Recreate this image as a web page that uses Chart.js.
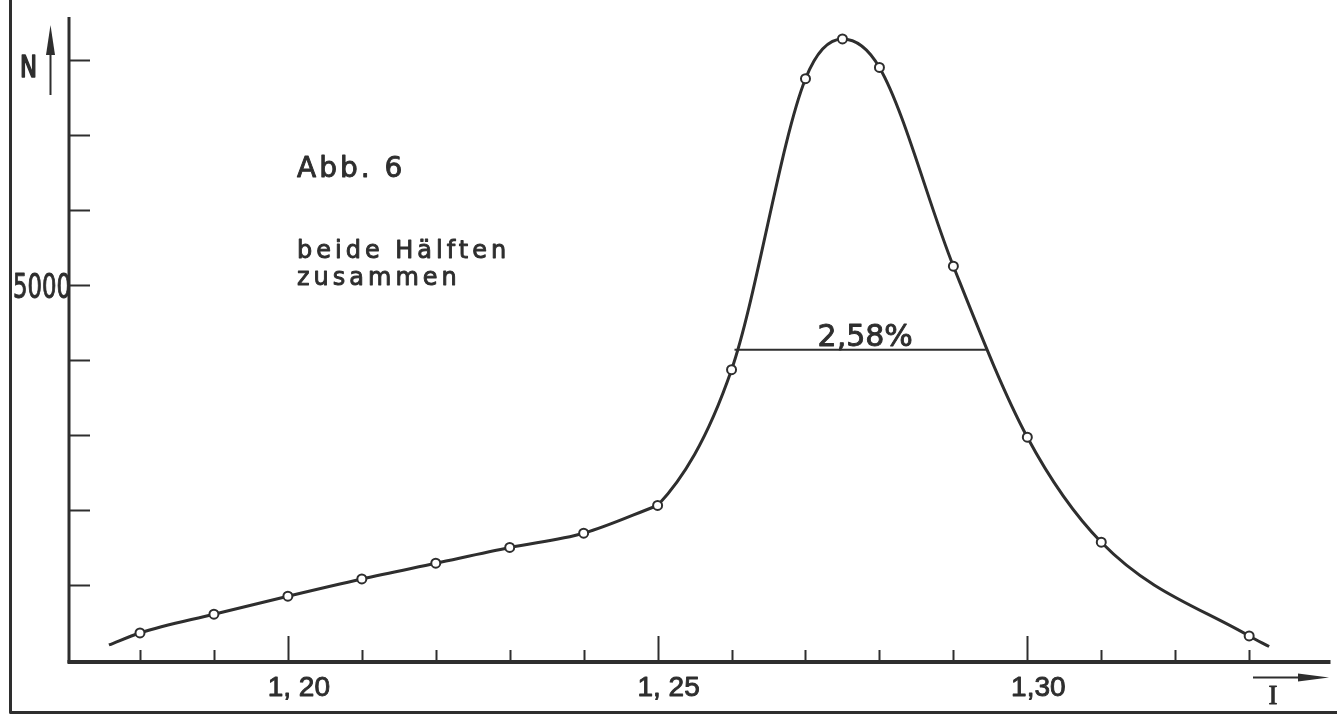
<!DOCTYPE html>
<html>
<head>
<meta charset="utf-8">
<title>Abb. 6</title>
<script src="https://cdn.jsdelivr.net/npm/chart.js@4/dist/chart.umd.min.js"></script>
<style>
  html, body { margin: 0; padding: 0; background: #ffffff; }
  #wrap { width: 1337px; height: 716px; position: relative; }
</style>
</head>
<body>
<div id="wrap"><canvas id="chart"></canvas></div>
<script>
// Measured points: I (abscissa) and counts N
const measI = [1.18, 1.19, 1.20, 1.21, 1.22, 1.23, 1.24, 1.25, 1.26, 1.27, 1.275, 1.28, 1.29, 1.30, 1.31, 1.33];
const measN = [360, 610, 850, 1080, 1290, 1500, 1690, 2060, 3870, 7750, 8280, 7900, 5250, 2970, 1570, 320];

// Where the hand-drawn curve begins and ends beyond the outer points
const tailI = [1.1758, 1.3327];
const tailN = [200, 180];

// The curve bends at the foot of the peak
const kneeI = 1.25;

// Axis ticks
const xTicks = [1.18, 1.19, 1.20, 1.21, 1.22, 1.23, 1.24, 1.25, 1.26, 1.27, 1.28, 1.29, 1.30, 1.31, 1.32, 1.33];
const xMajor = [1.20, 1.25, 1.30];
const xMajorLabels = ['1, 20', '1, 25', '1,30'];
const yTicks = [1000, 2000, 3000, 4000, 5000, 6000, 7000, 8000];
const yLabelValue = 5000;
const yLabelText = '5000';

// Half-width marker
const halfLevel = 4135;
const halfFromI = 1.2604;
const halfToI = 1.2944;
const halfText = '2,58%';

// Plot range and placement
const X_MIN = 1.1704, X_MAX = 1.3410;
const Y_MIN = -27, Y_MAX = 8573;
const PAD = { left: 69, right: 6, top: 17, bottom: 54 };
const WIDTH = 1337;

const INK = '#2e2e2e';

const points = measI.map((x, i) => ({ x, y: measN[i] }));
const curve = [{ x: tailI[0], y: tailN[0] }, ...points, { x: tailI[1], y: tailN[1] }];
// flank below the knee, and the peak part (drawn only right of the knee)
const flank = curve.filter(p => p.x <= kneeI);
const peak = curve.filter(p => p.x >= kneeI - 0.01);
const kneeOffset = (kneeI - X_MIN) / (X_MAX - X_MIN) * (WIDTH - PAD.left - PAD.right);

// lettering: fill plus a hairline outline for a heavier, inked look
function letter(ctx, text, x, y, weight) {
  ctx.fillText(text, x, y);
  ctx.lineWidth = weight;
  ctx.strokeText(text, x, y);
}

// lettering squeezed horizontally to a given width
function letterFit(ctx, text, x, y, width, weight) {
  const w = ctx.measureText(text).width;
  ctx.save();
  ctx.translate(x, y);
  ctx.scale(width / w, 1);
  letter(ctx, text, 0, 0, weight);
  ctx.restore();
}

const drawing = {
  id: 'drawing',
  beforeDatasetsDraw(chart) {
    const ctx = chart.ctx;
    const xs = chart.scales.x, ys = chart.scales.y;
    const area = chart.chartArea;
    ctx.save();
    ctx.strokeStyle = INK;
    ctx.fillStyle = INK;
    ctx.lineCap = 'butt';
    ctx.lineJoin = 'round';

    // page frame (left and bottom edges)
    ctx.lineWidth = 3;
    ctx.beginPath();
    ctx.moveTo(10.5, 0);
    ctx.lineTo(10.5, 712.5);
    ctx.lineTo(1337, 712.5);
    ctx.stroke();

    const x0 = area.left;
    const y0 = area.bottom;

    // axes
    ctx.lineWidth = 3;
    ctx.beginPath();
    ctx.moveTo(x0, area.top);
    ctx.lineTo(x0, y0 + 1);
    ctx.stroke();
    ctx.lineWidth = 4;
    ctx.beginPath();
    ctx.moveTo(x0 - 1.5, y0);
    ctx.lineTo(area.right, y0);
    ctx.stroke();

    // y ticks pointing inward
    ctx.lineWidth = 2;
    yTicks.forEach(v => {
      const py = Math.round(ys.getPixelForValue(v)) + 0.5;
      ctx.beginPath();
      ctx.moveTo(x0, py);
      ctx.lineTo(x0 + 21, py);
      ctx.stroke();
    });

    // x ticks pointing upward
    xTicks.forEach(v => {
      const px = Math.round(xs.getPixelForValue(v)) + 0.5;
      const major = xMajor.some(m => Math.abs(m - v) < 1e-9);
      ctx.beginPath();
      ctx.moveTo(px, y0);
      ctx.lineTo(px, y0 - (major ? 26 : 12));
      ctx.stroke();
    });

    // x labels
    ctx.font = '28px "Liberation Sans", Arial, sans-serif';
    ctx.textAlign = 'center';
    ctx.textBaseline = 'alphabetic';
    xMajor.forEach((v, i) => {
      letter(ctx, xMajorLabels[i], xs.getPixelForValue(v) + 11, 696, 0.9);
    });

    // y label
    ctx.textAlign = 'left';
    ctx.font = '33px "DejaVu Sans Condensed", "DejaVu Sans", sans-serif';
    letterFit(ctx, yLabelText, 13, ys.getPixelForValue(yLabelValue) + 13, 58, 0.9);

    // N with upward arrow
    ctx.font = '30px "DejaVu Sans Condensed", "DejaVu Sans", sans-serif';
    letterFit(ctx, 'N', 20, 77, 17, 1.6);
    ctx.lineWidth = 2;
    ctx.beginPath();
    ctx.moveTo(50.5, 95);
    ctx.lineTo(50.5, 45);
    ctx.stroke();
    ctx.beginPath();
    ctx.moveTo(50.5, 25);
    ctx.lineTo(46, 55);
    ctx.lineTo(55, 55);
    ctx.closePath();
    ctx.fill();

    // I with right arrow
    ctx.lineWidth = 2;
    ctx.beginPath();
    ctx.moveTo(1253, 677.5);
    ctx.lineTo(1305, 677.5);
    ctx.stroke();
    ctx.beginPath();
    ctx.moveTo(1329, 677.5);
    ctx.lineTo(1298, 673.5);
    ctx.lineTo(1298, 681.5);
    ctx.closePath();
    ctx.fill();
    ctx.font = '27px "Liberation Serif", serif';
    ctx.textAlign = 'center';
    letter(ctx, 'I', 1273, 704, 0.8);

    // captions
    ctx.textAlign = 'left';
    ctx.font = '28px "DejaVu Sans", sans-serif';
    ctx.letterSpacing = '3px';
    letter(ctx, 'Abb. 6', 297, 177, 0.9);
    ctx.font = '24px "DejaVu Sans", sans-serif';
    ctx.letterSpacing = '4px';
    letter(ctx, 'beide Hälften', 297, 258, 0.9);
    letter(ctx, 'zusammen', 297, 285, 0.9);
    ctx.letterSpacing = '0px';

    // half-width label
    ctx.font = '30px "DejaVu Sans", sans-serif';
    ctx.textAlign = 'center';
    const hx = (xs.getPixelForValue(halfFromI) + xs.getPixelForValue(halfToI)) / 2;
    letter(ctx, halfText, hx + 5, ys.getPixelForValue(halfLevel) - 4, 0.9);

    ctx.restore();
  }
};

const curveStyle = {
  borderColor: INK,
  borderWidth: 3,
  pointRadius: 0,
  cubicInterpolationMode: 'monotone',
  fill: false
};

new Chart(document.getElementById('chart'), {
  type: 'line',
  data: {
    datasets: [
      Object.assign({ label: 'Kurve', data: flank, order: 4 }, curveStyle),
      Object.assign({
        label: 'Kurve (Maximum)',
        data: peak,
        order: 3,
        clip: { left: -kneeOffset, top: 10, right: 10, bottom: 10 }
      }, curveStyle),
      {
        label: 'Halbwertsbreite',
        data: [{ x: halfFromI, y: halfLevel }, { x: halfToI, y: halfLevel }],
        borderColor: INK,
        borderWidth: 2,
        pointRadius: 0,
        tension: 0,
        fill: false,
        order: 2
      },
      {
        label: 'Messpunkte',
        data: points,
        showLine: false,
        pointRadius: 4.5,
        pointBorderWidth: 2,
        pointBackgroundColor: '#ffffff',
        pointBorderColor: INK,
        order: 1
      }
    ]
  },
  options: {
    responsive: true,
    maintainAspectRatio: false,
    animation: false,
    layout: { padding: PAD },
    plugins: { legend: { display: false }, tooltip: { enabled: false } },
    scales: {
      x: { type: 'linear', min: X_MIN, max: X_MAX, display: false },
      y: { type: 'linear', min: Y_MIN, max: Y_MAX, display: false }
    }
  },
  plugins: [drawing]
});
</script>
</body>
</html>
